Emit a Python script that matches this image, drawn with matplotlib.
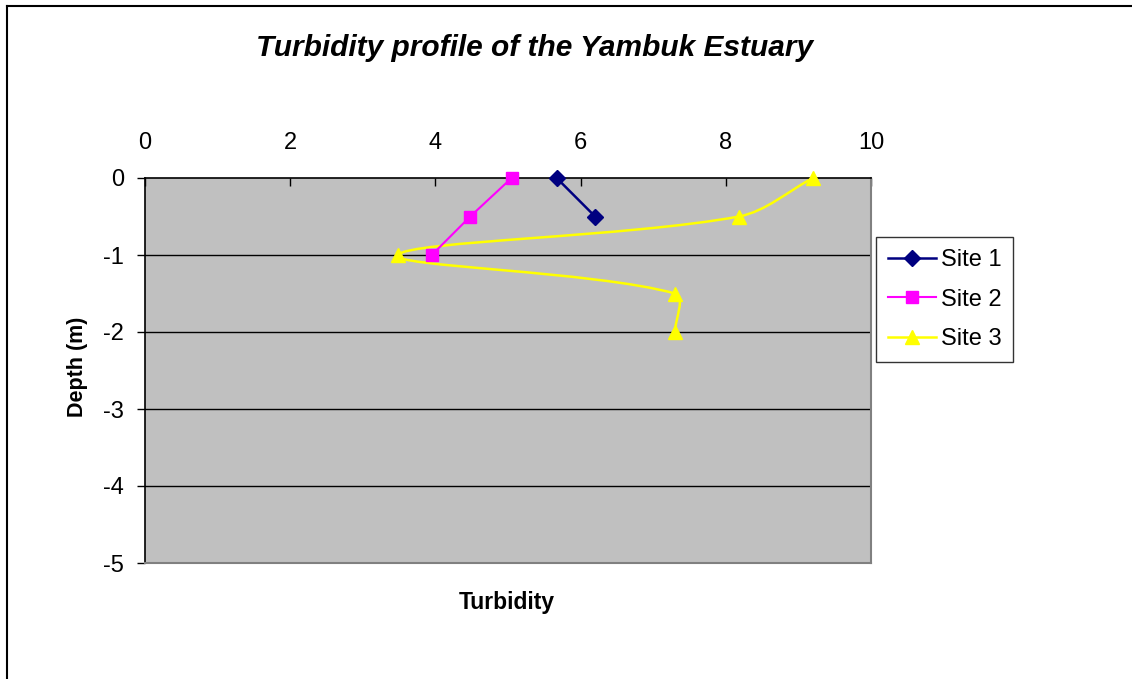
import matplotlib
matplotlib.use('Agg')
import numpy as np
import matplotlib.pyplot as plt
from matplotlib.path import Path
from matplotlib.patches import PathPatch
from matplotlib.lines import Line2D

# data
site1_turb = [5.67, 6.2]
site1_depth = [0, -0.5]
site2_turb = [5.05, 4.48, 3.95]
site2_depth = [0, -0.5, -1]
site3_turb = [9.2, 8.18, 3.48, 7.3, 7.3]
site3_depth = [0, -0.5, -1, -1.5, -2]
x_ticks = [0, 2, 4, 6, 8, 10]
y_ticks = [0, -1, -2, -3, -4, -5]

plt.rcParams['font.family'] = ['Liberation Sans', 'DejaVu Sans']
plt.rcParams['axes.unicode_minus'] = False

W, H = 1132, 679
fig = plt.figure(figsize=(W / 100, H / 100), dpi=100)

# plot area in pixels
left, right, top, bottom = 145, 871, 178, 563
ax = fig.add_axes([left / W, 1 - bottom / H, (right - left) / W, (bottom - top) / H])
ax.set_facecolor('#C0C0C0')
ax.set_xlim(0, 10)
ax.set_ylim(-5, 0)


def smooth_path(xs, ys):
    # Excel-like smoothed line: cubic Bezier, tangents scaled by chord length
    # (worked out in screen space, then mapped back to data)
    pts = ax.transData.transform(np.column_stack([xs, ys]))
    n = len(pts)
    verts = [pts[0]]
    codes = [Path.MOVETO]
    for i in range(n - 1):
        p0 = pts[i - 1] if i > 0 else pts[i]
        p1 = pts[i]
        p2 = pts[i + 1]
        p3 = pts[i + 2] if i + 2 < n else pts[i + 1]
        d01 = np.hypot(*(p1 - p0))
        d12 = np.hypot(*(p2 - p1))
        d23 = np.hypot(*(p3 - p2))
        c1 = p1 + (p2 - p0) * d12 / (d01 + d12) / 3
        c2 = p2 - (p3 - p1) * d12 / (d12 + d23) / 3
        verts += [c1, c2, p2]
        codes += [Path.CURVE4] * 3
    verts = ax.transData.inverted().transform(np.array(verts))
    return Path(verts, codes)


ax.plot(site1_turb, site1_depth, color='#000080', lw=1.8, marker='D', ms=8,
        zorder=4, clip_on=False)
ax.plot(site2_turb, site2_depth, color='#FF00FF', lw=1.5, marker='s', ms=8.5,
        zorder=4, clip_on=False)
ax.add_patch(PathPatch(smooth_path(site3_turb, site3_depth), fill=False,
                       edgecolor='#FFFF00', lw=1.8, zorder=3, clip_on=False))
ax.plot(site3_turb, site3_depth, ls='none', color='#FFFF00', marker='^', ms=10,
        zorder=4, clip_on=False)

# gridlines
for y in y_ticks[1:-1]:
    ax.axhline(y, color='black', lw=1, zorder=1)

ax.xaxis.tick_top()
ax.set_xticks(x_ticks)
ax.set_yticks(y_ticks)
ax.tick_params(axis='x', direction='in', length=6, width=1, pad=17.5,
               labelsize=17, top=True, bottom=False)
ax.tick_params(axis='y', direction='out', length=6, width=1, pad=9,
               labelsize=17)

for s in ['top', 'left']:
    ax.spines[s].set_color('black')
    ax.spines[s].set_linewidth(1.2)
for s in ['right', 'bottom']:
    ax.spines[s].set_color('#808080')
    ax.spines[s].set_linewidth(1.5)

fig.text(535 / W, 1 - 48 / H, 'Turbidity profile of the Yambuk Estuary',
         ha='center', va='center', fontsize=21.5, fontweight='bold',
         fontstyle='italic')
fig.text(507 / W, 1 - 603 / H, 'Turbidity', ha='center', va='center',
         fontsize=16.5, fontweight='bold')
fig.text(78 / W, 1 - 367 / H, 'Depth (m)', ha='center', va='center',
         fontsize=15.5, fontweight='bold', rotation=90)

handles = [
    Line2D([], [], color='#000080', lw=1.8, marker='D', ms=8),
    Line2D([], [], color='#FF00FF', lw=1.5, marker='s', ms=8.5),
    Line2D([], [], color='#FFFF00', lw=1.8, marker='^', ms=10),
]
leg = fig.legend(handles, ['Site 1', 'Site 2', 'Site 3'],
                 loc='upper left', bbox_to_anchor=(876 / W, 1 - 237 / H),
                 frameon=True, fancybox=False, fontsize=17,
                 handlelength=2.05, handletextpad=0.2, borderpad=0.5,
                 labelspacing=0.75, borderaxespad=0)
leg.get_frame().set_edgecolor('black')
leg.get_frame().set_linewidth(1)

# outer chart frame (cut off at right and bottom)
fig.add_artist(Line2D([7 / W, 7 / W], [0, 1 - 6 / H], color='black', lw=1.5))
fig.add_artist(Line2D([7 / W, 1], [1 - 6 / H, 1 - 6 / H], color='black', lw=1.5))

fig.savefig('out.png', dpi=100)
